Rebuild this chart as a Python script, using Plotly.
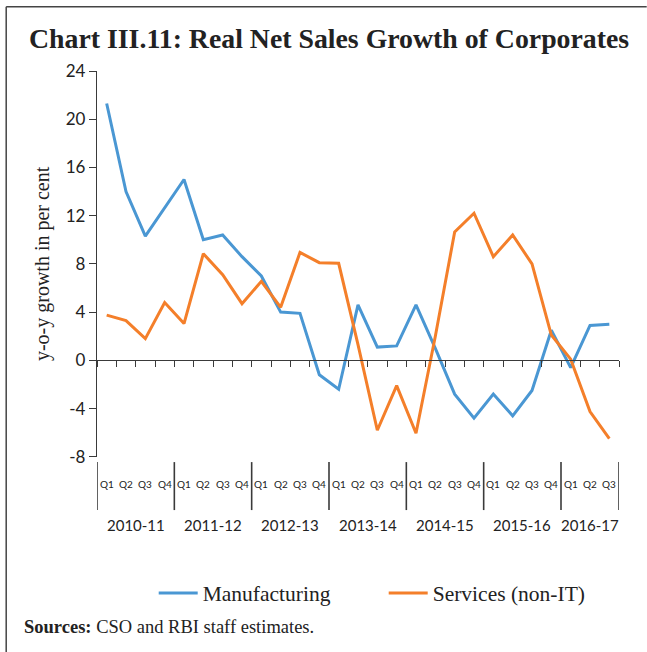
import plotly.graph_objects as go

# Fiscal years and their quarters (2016-17 has three quarters so far)
years = ["2010-11", "2011-12", "2012-13", "2013-14", "2014-15", "2015-16", "2016-17"]
quarters_per_year = [4, 4, 4, 4, 4, 4, 3]
quarter_names = ["Q1", "Q2", "Q3", "Q4"]

# y-o-y real net sales growth, per cent
manufacturing = [21.3, 14.0, 10.3, 12.6, 15.0, 10.0, 10.4, 8.6, 7.0, 4.0,
                 3.9, -1.2, -2.4, 4.6, 1.1, 1.2, 4.6, 1.0, -2.8, -4.8,
                 -2.8, -4.6, -2.5, 2.5, -0.6, 2.9, 3.0]
services = [3.75, 3.3, 1.8, 4.8, 3.05, 8.85, 7.1, 4.7, 6.55, 4.4,
            8.95, 8.1, 8.05, 1.3, -5.8, -2.1, -6.05, 2.0, 10.65, 12.2,
            8.6, 10.4, 8.0, 2.1, 0.1, -4.25, -6.5]

y_ticks = list(range(-8, 25, 4))

# Quarter labels and positions on the category axis
q_labels = [quarter_names[q] for n in quarters_per_year for q in range(n)]
idx = list(range(len(q_labels)))

W, H = 647, 652
L, R, T, B = 97.3, 27.7, 70.7, 8.0
PLOT_BOTTOM = 456.7            # pixel row of the y = -8 line
PW, PH = W - L - R, H - T - B
Y_DOMAIN0 = (H - B - PLOT_BOTTOM) / PH


def px_x(x):
    return (x - L) / PW


def px_y(y):
    return (H - B - y) / PH


BLUE = "#4A97D3"
ORANGE = "#F47F2A"
AXIS = "#3A3A3A"
TEXT = "#222222"

fig = go.Figure()
fig.add_trace(go.Scatter(x=idx, y=manufacturing, mode="lines", name="Manufacturing",
                         line=dict(color=BLUE, width=3)))
fig.add_trace(go.Scatter(x=idx, y=services, mode="lines", name="Services (non-IT)",
                         line=dict(color=ORANGE, width=3)))

n = len(idx)
zero_pos = Y_DOMAIN0 + (1 - Y_DOMAIN0) * (0 - y_ticks[0]) / (y_ticks[-1] - y_ticks[0])
fig.update_xaxes(
    range=[-0.5, n - 0.5], anchor="free", position=zero_pos, automargin=False,
    tickvals=[i - 0.5 for i in range(n + 1)], showticklabels=False,
    ticks="outside", ticklen=6, tickwidth=1.3, tickcolor=AXIS,
    showline=True, linecolor=AXIS, linewidth=1.3, showgrid=False, zeroline=False,
)
fig.update_yaxes(
    domain=[Y_DOMAIN0, 1], automargin=False,
    range=[y_ticks[0], y_ticks[-1]], tickvals=y_ticks, ticktext=[str(v) for v in y_ticks],
    ticks="outside", ticklen=7, tickwidth=1.3, tickcolor=AXIS,
    showline=True, linecolor=AXIS, linewidth=1.3, showgrid=False, zeroline=False,
    tickfont=dict(family="Lato", size=17, color=TEXT),
    title=dict(text="y-o-y growth in per cent", standoff=10,
               font=dict(family="Liberation Serif", size=20, color=TEXT)),
)

shapes = []
annotations = []

# Year separators under the axis
bounds = [-0.5]
for k in quarters_per_year:
    bounds.append(bounds[-1] + k)
for b in bounds:
    shapes.append(dict(type="line", xref="x", yref="paper", x0=b, x1=b,
                       y0=px_y(462), y1=px_y(510), line=dict(color=AXIS, width=1.6)))

# Quarter labels
for i, q in zip(idx, q_labels):
    annotations.append(dict(x=i, y=px_y(484), xref="x", yref="paper", text=q,
                            xanchor="center", yanchor="middle", showarrow=False,
                            font=dict(family="Lato", size=10, color=TEXT)))

# Year labels centred under their quarters
for y_lab, b0, b1 in zip(years, bounds[:-1], bounds[1:]):
    annotations.append(dict(x=(b0 + b1) / 2, y=px_y(525), xref="x", yref="paper",
                            text=y_lab, xanchor="center", yanchor="middle", showarrow=False,
                            font=dict(family="Lato", size=15, color=TEXT)))

# Title and source note
annotations.append(dict(x=px_x(329), y=px_y(38), xref="paper", yref="paper",
                        text="<b>Chart III.11: Real Net Sales Growth of Corporates</b>",
                        showarrow=False, xanchor="center", yanchor="middle",
                        font=dict(family="Liberation Serif", size=27.8, color=TEXT)))
annotations.append(dict(x=px_x(22), y=px_y(627), xref="paper", yref="paper",
                        text="<b>Sources:</b> CSO and RBI staff estimates.",
                        showarrow=False, xanchor="left", yanchor="middle",
                        font=dict(family="Liberation Serif", size=18.5, color=TEXT)))

# Frame along top and left edges
shapes.append(dict(type="line", xref="paper", yref="paper", x0=px_x(6.5), x1=px_x(W),
                   y0=px_y(6.5), y1=px_y(6.5), line=dict(color="#444444", width=1.5)))
shapes.append(dict(type="line", xref="paper", yref="paper", x0=px_x(6.5), x1=px_x(6.5),
                   y0=px_y(6.5), y1=px_y(H), line=dict(color="#444444", width=1.5)))

fig.update_layout(
    width=W, height=H, autosize=False,
    margin=dict(l=L, r=R, t=T, b=B),
    paper_bgcolor="white", plot_bgcolor="white",
    shapes=shapes, annotations=annotations,
    showlegend=True,
    legend=dict(orientation="h", x=px_x(154), y=px_y(593), xanchor="left", yanchor="middle",
                itemwidth=39, entrywidth=176, entrywidthmode="pixels",
                font=dict(family="Liberation Serif", size=21.5, color=TEXT)),
)

fig.write_html("out.html")
